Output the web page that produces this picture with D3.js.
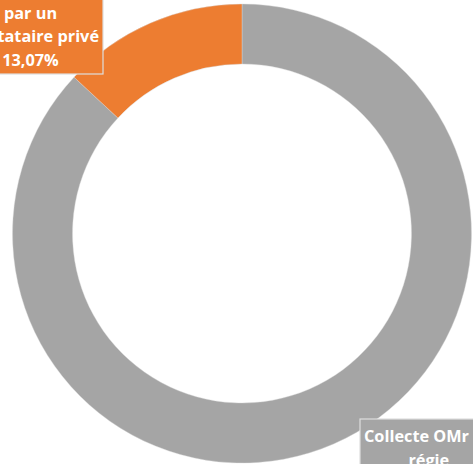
<!DOCTYPE html>
<html>
<head>
<meta charset="utf-8">
<script src="https://cdn.jsdelivr.net/npm/d3@7"></script>
<style>
html,body{margin:0;padding:0;background:#fff;overflow:hidden;}
svg{display:block;}
</style>
</head>
<body>
<svg id="chart" width="473" height="464"></svg>
<script>
const categories = ["Collecte OMr en régie", "Collecte OMr par un prestataire privé"];
const values = [86.93, 13.07];
const labelLines = [["Collecte OMr en", "régie"], ["Collecte OMr", "par un", "prestataire privé"]];
const colors = ["#A5A5A5", "#ED7D31"];

const svg = d3.select("#chart");
const cx = 242, cy = 233.5, R = 229.5, r = 169.5;

const pie = d3.pie().sort(null).value(d => d.value).startAngle(0).endAngle(2 * Math.PI);
const data = categories.map((c, i) => ({name: c, value: values[i], color: colors[i], lines: labelLines[i]}));
const arcs = pie(data);
const arc = d3.arc().innerRadius(r).outerRadius(R);

const g = svg.append("g").attr("transform", `translate(${cx},${cy})`);
g.selectAll("path").data(arcs).enter().append("path")
  .attr("d", arc)
  .attr("fill", d => d.data.color)
  .attr("stroke", "#d9d9d9")
  .attr("stroke-width", 0.4);

const fmt = v => d3.format(".2f")(v).replace(".", ",") + "%";
const fontSize = 16.3, lh = 23.5;

// label anchors: [régie box: left/top], [prestataire box: right/bottom]
const anchors = [{left: 360, top: 419}, {right: 103, bottom: 74}];

arcs.forEach((a, i) => {
  const lines = a.data.lines.concat([fmt(a.data.value)]);
  const lg = svg.append("g");
  const rect = lg.append("rect").attr("fill", a.data.color).attr("stroke", "#dedede").attr("stroke-width", 1.2);
  const texts = lg.selectAll("text").data(lines).enter().append("text")
    .text(d => d)
    .attr("font-family", "'Open Sans', sans-serif")
    .attr("font-weight", "bold")
    .attr("font-size", fontSize)
    .attr("fill", "#fff")
    .attr("text-anchor", "middle");
  let maxW = 0;
  texts.each(function(){ maxW = Math.max(maxW, this.getComputedTextLength()); });
  const w = maxW + 8;
  const h = lines.length * lh + 8;
  const an = anchors[i];
  let left, top;
  if (an.left !== undefined) { left = an.left; top = an.top; }
  else { left = an.right - w; top = an.bottom - h; }
  rect.attr("x", left).attr("y", top).attr("width", w).attr("height", h);
  texts.attr("x", left + w / 2).attr("y", (d, k) => top + 23 + k * lh);
});
</script>
</body>
</html>
